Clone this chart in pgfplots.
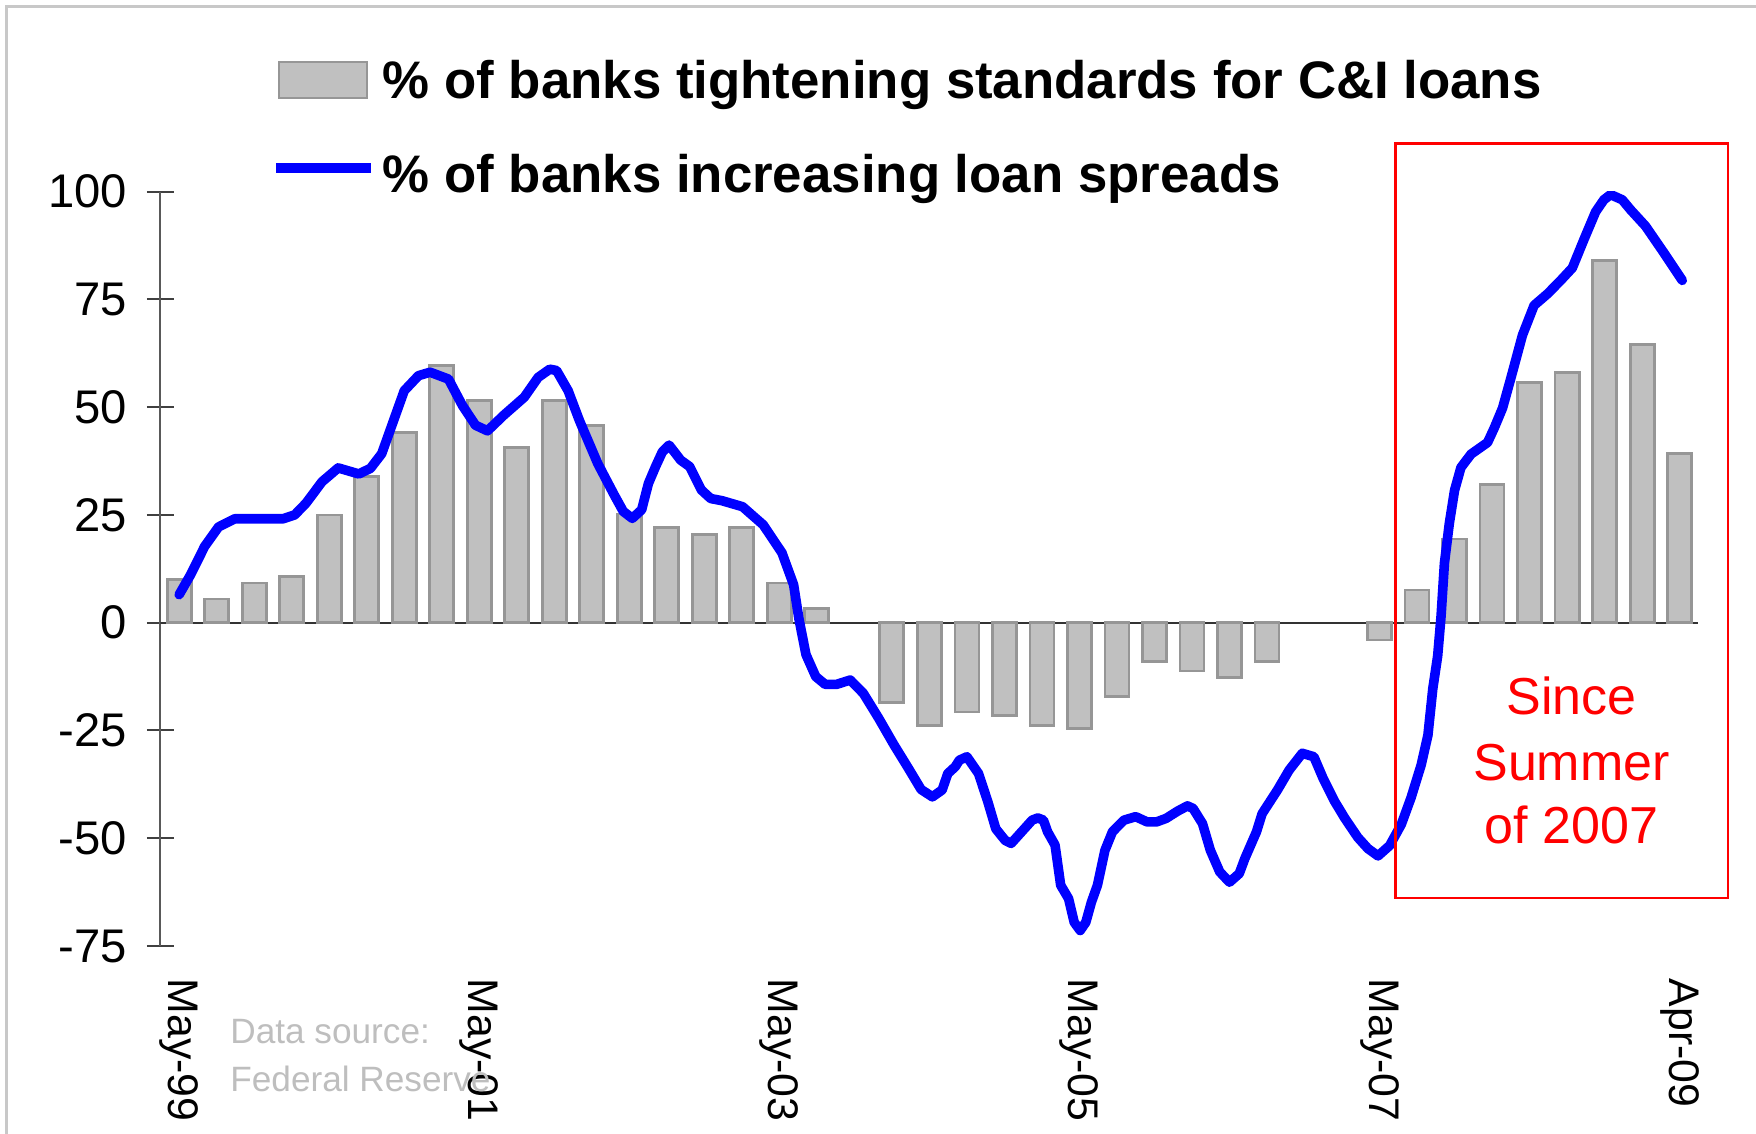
\documentclass[border=0pt]{standalone}
\usepackage{pgfplots}
\pgfplotsset{compat=1.18}
\usepackage{pgfplotstable}
\usepackage{fontspec}
\setmainfont{Liberation Sans}

\definecolor{barfill}{RGB}{192,192,192}
\definecolor{bardraw}{RGB}{150,150,150}
\definecolor{srcgray}{RGB}{190,190,190}
\definecolor{framegray}{RGB}{200,200,200}

% quarterly survey: % of banks tightening C&I standards (May-99 .. Apr-09)
% quarters with no bar (0) are left out
\pgfplotstableread{
x y
0 10.0
1 5.5
2 9.2
3 10.8
4 25.0
5 34.0
6 44.2
7 59.7
8 51.6
9 40.7
10 51.6
11 45.8
12 25.2
13 22.1
14 20.5
15 22.1
16 9.2
17 3.2
19 -18.5
20 -23.8
21 -20.7
22 -21.6
23 -23.8
24 -24.5
25 -17.2
26 -9.0
27 -11.2
28 -12.7
29 -9.0
32 -4.0
33 7.6
34 19.4
35 32.0
36 55.8
37 58.0
38 84.0
39 64.6
40 39.3
}\tighten

\begin{document}
\begin{tikzpicture}
\path[use as bounding box] (-40.1pt,-47pt) rectangle (398.9pt,236.5pt);
\draw[framegray, line width=0.8pt] (-38.4pt,-47pt) -- (-38.4pt,234.8pt) -- (398.9pt,234.8pt);

\begin{axis}[
  at={(0,0)}, anchor=south west,
  scale only axis, width=384.5pt, height=188.6pt,
  xmin=-0.5, xmax=40.5, ymin=-75, ymax=100,
  axis y line*=left, axis x line*=bottom,
  x axis line style={draw=none},
  y axis line style={black!65, line width=0.5pt},
  ytick={-75,-50,-25,0,25,50,75,100},
  yticklabels={-75,-50,-25,0,25,50,75,100},
  xtick={0,8,16,24,32,40},
  xticklabels={May-99,May-01,May-03,May-05,May-07,Apr-09},
  tick align=center, major tick length=6.8pt,
  major x tick style={draw=none},
  major y tick style={black!75, line width=0.5pt},
  yticklabel style={font=\fontsize{11.8}{13}\selectfont, anchor=east, inner sep=0pt, xshift=-4.8pt},
  xticklabel style={font=\fontsize{10.7}{12}\selectfont, rotate=-90, anchor=west, inner sep=0pt},
  xticklabel shift=4.6pt,
]
\draw[black!80, line width=0.5pt] (axis cs:-0.5,0) -- (axis cs:40.5,0);
\addplot[ybar, bar width=0.64, fill=barfill, draw=bardraw, line width=0.7pt] table[x=x, y=y] {\tighten};
\addplot[blue, line width=2.4pt, line join=round, line cap=round] coordinates {
(0.0,6.5) (0.31,11.2) (0.68,17.7) (1.05,22.2) (1.48,24.1) (2.77,24.1)
(3.08,25.0) (3.38,27.7) (3.81,32.7) (4.24,35.9) (4.79,34.5) (5.10,35.8)
(5.40,39.2) (5.70,46.5) (6.00,53.8) (6.38,57.3) (6.69,58.1) (7.18,56.5)
(7.55,50.4) (7.90,45.8) (8.22,44.5) (8.65,48.1) (9.20,52.3) (9.57,56.9)
(9.88,58.8) (10.06,58.5) (10.37,53.8) (10.67,46.9) (11.16,36.9) (11.60,29.6)
(11.84,25.8) (12.08,24.2) (12.33,26.2) (12.51,32.3) (12.70,36.2) (12.88,39.6)
(13.06,41.2) (13.37,37.7) (13.61,36.2) (13.92,30.8) (14.17,28.8) (14.47,28.3)
(15.02,26.9) (15.57,22.7) (16.07,16.2) (16.38,8.8) (16.52,1.0) (16.71,-7.4)
(16.97,-12.5) (17.22,-14.3) (17.53,-14.3) (17.89,-13.3) (18.24,-16.4) (18.65,-22.2)
(19.06,-28.4) (19.47,-34.2) (19.78,-38.7) (20.08,-40.4) (20.34,-38.8) (20.49,-35.0)
(20.69,-33.4) (20.80,-31.9) (21.00,-31.1) (21.31,-35.0) (21.56,-41.6) (21.77,-47.8)
(22.02,-50.5) (22.18,-51.2) (22.74,-45.8) (22.89,-45.3) (23.04,-45.8) (23.15,-48.5)
(23.35,-51.6) (23.50,-60.9) (23.71,-64.0) (23.86,-69.5) (24.02,-71.4) (24.17,-69.5)
(24.32,-64.8) (24.48,-60.9) (24.68,-52.8) (24.88,-48.5) (25.19,-45.8) (25.50,-45.0)
(25.80,-46.2) (26.06,-46.2) (26.31,-45.4) (26.62,-43.7) (26.88,-42.5) (27.03,-43.1)
(27.28,-46.6) (27.49,-52.8) (27.74,-57.8) (28.00,-60.2) (28.26,-58.2) (28.41,-54.7)
(28.72,-48.5) (28.87,-44.3) (29.28,-38.8) (29.59,-34.2) (29.94,-30.3) (30.25,-31.1)
(30.49,-36.0) (30.80,-41.4) (31.07,-45.3) (31.42,-49.8) (31.69,-52.4) (31.96,-54.1)
(32.27,-51.7) (32.58,-46.8) (32.84,-40.6) (33.11,-33.0) (33.29,-26.1) (33.42,-15.3)
(33.55,-7.7) (33.64,1.5) (33.73,13.8) (33.86,23.0) (34.00,30.7) (34.17,36.0)
(34.44,39.1) (34.88,41.8) (35.06,45.2) (35.28,49.8) (35.50,56.7) (35.81,66.7)
(36.12,73.6) (36.48,76.3) (36.83,79.4) (37.14,82.3) (37.45,88.9) (37.76,95.3)
(37.98,98.1) (38.16,99.3) (38.47,98.1) (38.69,95.8) (39.09,92.0) (39.58,85.8)
(40.07,79.4)
};
\end{axis}

% legend
\draw[draw=bardraw, fill=barfill, line width=0.7pt] (29.65pt,212pt) rectangle (51.65pt,221pt);
\node[anchor=base west, inner sep=0pt, font=\bfseries\fontsize{13.2}{15}\selectfont]
  at (55.4pt,211.8pt) {\% of banks tightening standards for C\&I loans};
\draw[blue, line width=2.5pt] (28.9pt,194.5pt) -- (52.65pt,194.5pt);
\node[anchor=base west, inner sep=0pt, font=\bfseries\fontsize{13.2}{15}\selectfont]
  at (55.4pt,188.3pt) {\% of banks increasing loan spreads};

% highlight box
\draw[red, line width=0.7pt] (308.7pt,12pt) rectangle (391.9pt,200.6pt);
\begin{scope}[every node/.style={anchor=base, inner sep=0pt, text=red, font=\fontsize{13}{15}\selectfont}]
\node at (352.8pt,57.9pt) {Since};
\node at (352.8pt,41.4pt) {Summer};
\node at (352.8pt,25.7pt) {of 2007};
\end{scope}

% source note
\begin{scope}[every node/.style={anchor=base west, inner sep=0pt, text=srcgray, font=\fontsize{8.8}{10}\selectfont}]
\node at (17.3pt,-24.5pt) {Data source:};
\node at (17.3pt,-36.5pt) {Federal Reserve};
\end{scope}
\end{tikzpicture}
\end{document}
